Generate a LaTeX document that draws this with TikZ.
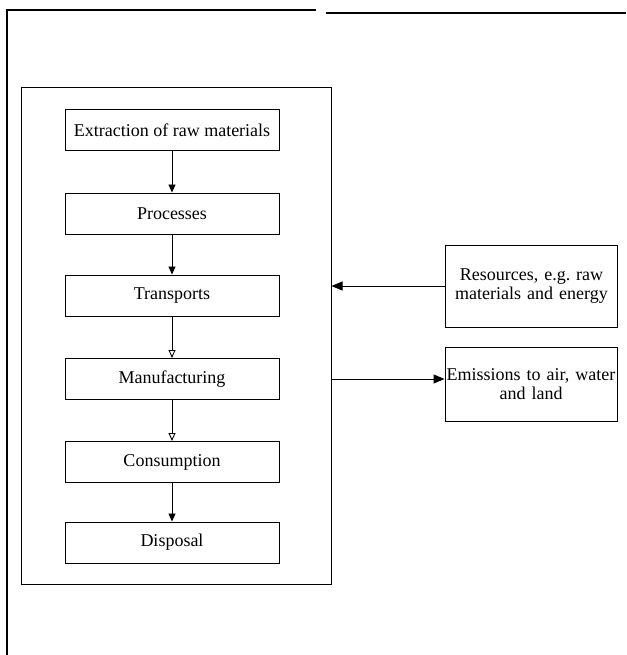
\documentclass[tikz,border=0pt]{standalone}
\usepackage{fontspec}
\setmainfont{Liberation Serif}
\usetikzlibrary{arrows.meta,calc}
\tikzset{
  stagebox/.style={draw, line width=1pt, minimum width=214pt, minimum height=41pt, inner sep=0pt,
    font=\fontsize{18}{19}\selectfont},
  sidebox/.style={draw, line width=1pt, inner sep=1pt, align=center, text width=170pt,
    font=\fontsize{18}{19}\selectfont},
  flow/.style={line width=0.9pt, -{Triangle[length=8pt,width=7pt]}},
  flowopen/.style={line width=0.9pt, -{Triangle[open,length=8pt,width=7pt,fill=white]}},
  sideflow/.style={line width=1pt, -{Triangle[length=11pt,width=9pt]}},
  framelin/.style={line width=1.4pt}
}
\begin{document}
\begin{tikzpicture}[x=1pt,y=-1pt]
\useasboundingbox (0,0) rectangle (626,655);
% outer frame
\draw[framelin] (7,655) -- (7,10) -- (316,10);
\draw[framelin] (326,13) -- (626,13);
% inner frame
\node[draw, line width=1pt, minimum width=310pt, minimum height=496pt, inner sep=0pt] (frame) at (176,336) {};
% stages
\node[stagebox] (extr) at (172,130) {Extraction of raw materials};
\node[stagebox] (proc) at (172,213.5) {Processes};
\node[stagebox] (tran) at (172,295.5) {Transports};
\node[stagebox] (manu) at (172,379) {Manufacturing};
\node[stagebox] (cons) at (172,462) {Consumption};
\node[stagebox] (disp) at (172,542.5) {Disposal};
\draw[flow] (extr) -- (proc);
\draw[flow] (proc) -- (tran);
\draw[flowopen] (tran) -- (manu);
\draw[flowopen] (manu) -- (cons);
\draw[flow] (cons) -- (disp);
% side boxes
\node[sidebox, minimum height=82pt] (res) at (531.5,286) {Resources, e.g.\ raw\\materials and energy};
\node[sidebox, minimum height=74pt] (emis) at (531,384) {Emissions to air, water\\and land};
\draw[sideflow] (res.west) -- (res.west -| frame.east);
\draw[sideflow] (manu.east -| frame.east) -- (manu.east -| emis.west);
\end{tikzpicture}
\end{document}
